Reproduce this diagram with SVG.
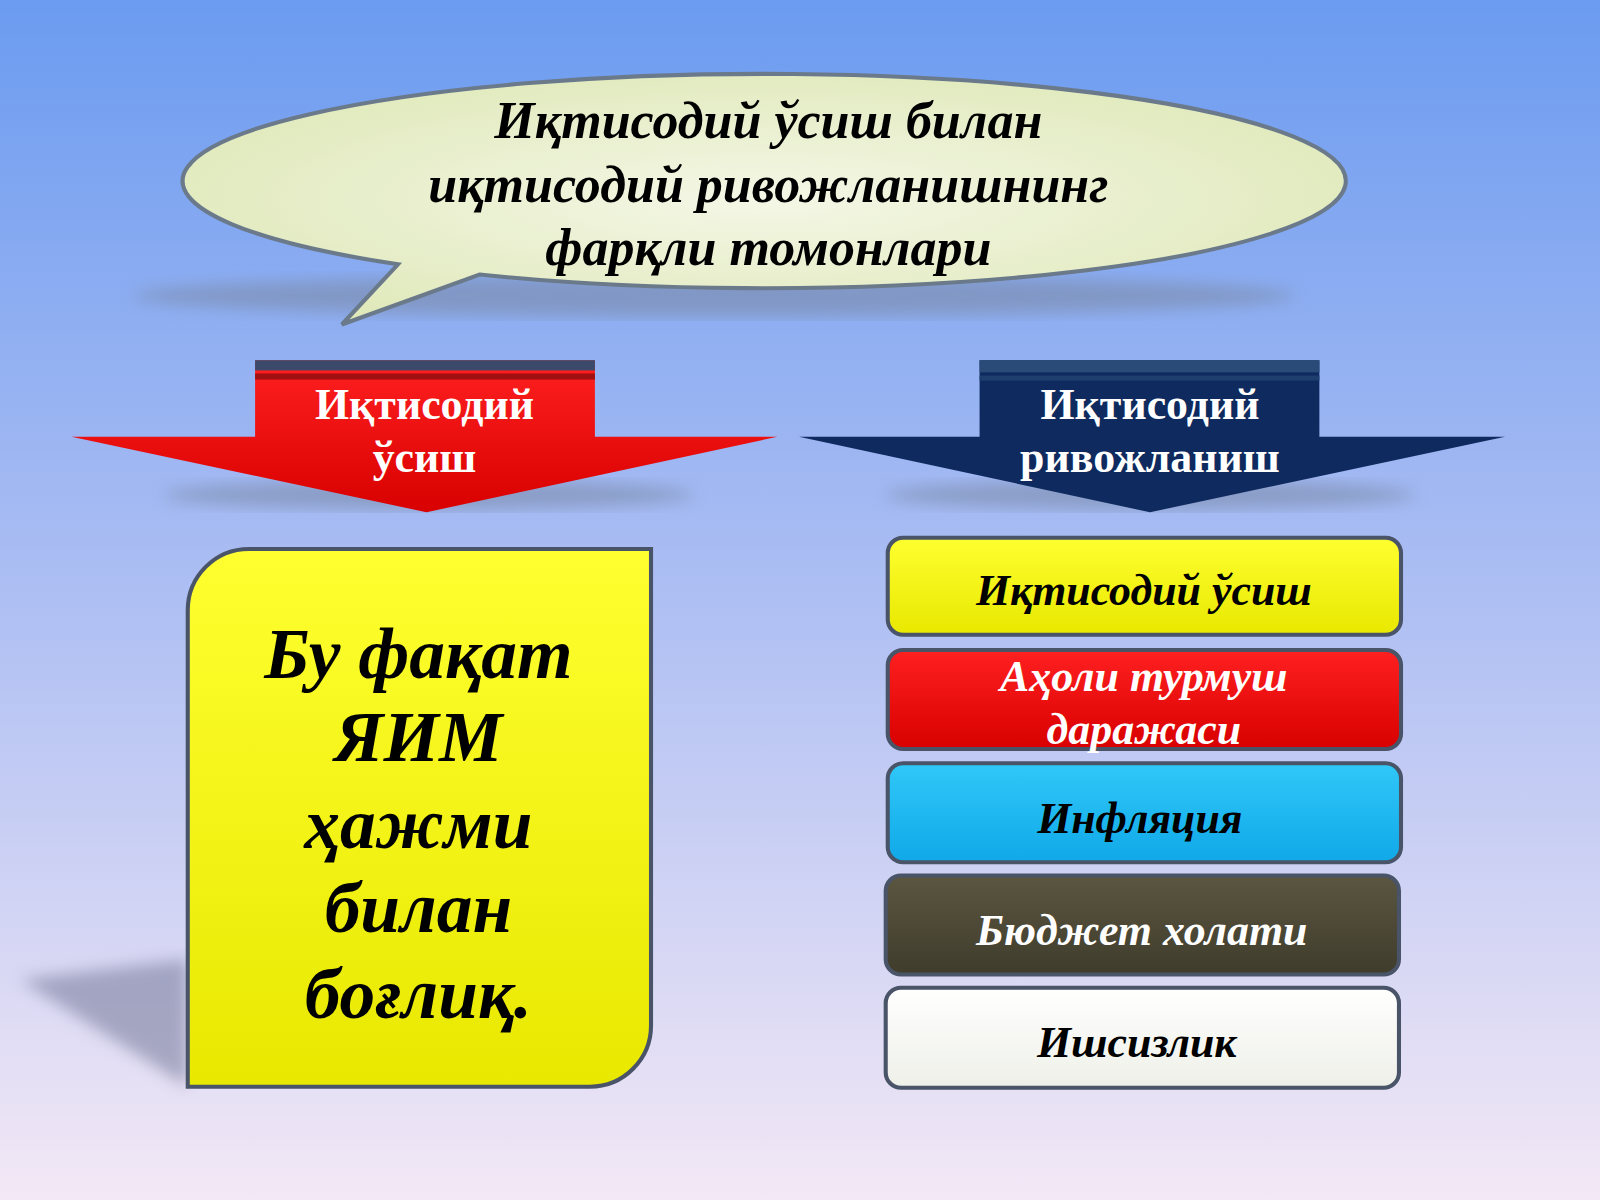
<svg xmlns="http://www.w3.org/2000/svg" width="1600" height="1200" viewBox="0 0 1600 1200">
<defs>
<linearGradient id="bg" x1="0" y1="0" x2="0" y2="1"><stop offset="0" stop-color="#6b9bf0"/><stop offset="0.5" stop-color="#aebff3"/><stop offset="1" stop-color="#f3e8f5"/></linearGradient>
<radialGradient id="bub" cx="0.5" cy="0.5" r="0.6"><stop offset="0" stop-color="#f4f7e6"/><stop offset="1" stop-color="#dfe8b8"/></radialGradient>
<linearGradient id="yel" x1="0" y1="0" x2="0" y2="1"><stop offset="0" stop-color="#ffff30"/><stop offset="1" stop-color="#e8e800"/></linearGradient>
<linearGradient id="red" x1="0" y1="0" x2="0" y2="1"><stop offset="0" stop-color="#ff2020"/><stop offset="1" stop-color="#d80000"/></linearGradient>
<linearGradient id="cya" x1="0" y1="0" x2="0" y2="1"><stop offset="0" stop-color="#30c8f8"/><stop offset="1" stop-color="#10a8e8"/></linearGradient>
<linearGradient id="drk" x1="0" y1="0" x2="0" y2="1"><stop offset="0" stop-color="#5a5640"/><stop offset="1" stop-color="#403c2c"/></linearGradient>
<linearGradient id="wht" x1="0" y1="0" x2="0" y2="1"><stop offset="0" stop-color="#ffffff"/><stop offset="1" stop-color="#eef0e8"/></linearGradient>
<filter id="blur"><feGaussianBlur stdDeviation="8"/></filter>
</defs>
<style>
.t{font-family:"Liberation Serif",serif;font-weight:bold;font-style:italic;text-anchor:middle}
.h{font-family:"Liberation Serif",serif;font-weight:bold;text-anchor:middle;fill:#fff;font-size:43px}
.box{stroke:#4a5468;stroke-width:4}
</style>
<rect width="1600" height="1200" fill="url(#bg)"/>
<g transform="scale(1.0204)">
<g id="title">
<ellipse cx="700" cy="290" rx="570" ry="20" fill="#7a8aa8" opacity="0.6" filter="url(#blur)"/>
<path d="M 390 259 L 335 318 L 470 269 A 570 105 0 1 0 390 259 Z" fill="url(#bub)" stroke="#6b7a8a" stroke-width="4"/>
<text class="t" x="753" y="135" font-size="51">Иқтисодий ўсиш билан</text>
<text class="t" x="753" y="198" font-size="51">иқтисодий ривожланишнинг</text>
<text class="t" x="753" y="260" font-size="51">фарқли томонлари</text>
</g>
<g id="arrow-red">
<ellipse cx="420" cy="485" rx="260" ry="14" fill="#7a8aa8" opacity="0.6" filter="url(#blur)"/>
<path d="M250 353 H583 V428 H762 L418 502 L70 428 H250 Z" fill="url(#red)"/>
<rect x="250" y="353" width="333" height="10" fill="#3b4a6a"/>
<rect x="250" y="366" width="333" height="6" fill="#a01010"/>
<text class="h" x="416" y="411">Иқтисодий</text>
<text class="h" x="416" y="463">ўсиш</text>
</g>
<g id="arrow-navy">
<ellipse cx="1127" cy="485" rx="260" ry="14" fill="#7a8aa8" opacity="0.6" filter="url(#blur)"/>
<path d="M960 353 H1293 V428 H1475 L1127 502 L783 428 H960 Z" fill="#0e2a5e"/>
<rect x="960" y="353" width="333" height="12" fill="#2a4a78"/>
<rect x="960" y="368" width="333" height="5" fill="#1e3e6e"/>
<text class="h" x="1127" y="411">Иқтисодий</text>
<text class="h" x="1127" y="463">ривожланиш</text>
</g>
<g id="yellow-box">
<path d="M20 960 L184 940 L184 1065 Z" fill="#6a7090" opacity="0.5" filter="url(#blur)"/>
<path d="M244 538 H638 V1005 A60 60 0 0 1 578 1065 H184 V598 A60 60 0 0 1 244 538 Z" fill="url(#yel)" class="box"/>
<g class="t" font-size="70" fill="#000">
<text x="410" y="664">Бу фақат</text>
<text x="410" y="746">ЯИМ</text>
<text x="410" y="831">ҳажми</text>
<text x="410" y="913">билан</text>
<text x="410" y="998">боғлиқ.</text>
</g>
</g>
<g id="b1"><rect x="870" y="527" width="503" height="95" rx="15" fill="url(#yel)" class="box"/><text class="t" x="1121" y="593" font-size="43">Иқтисодий ўсиш</text></g>
<g id="b2"><rect x="870" y="637" width="503" height="97" rx="15" fill="url(#red)" class="box"/><text class="t" x="1121" y="677" font-size="43" fill="#fff">Аҳоли турмуш</text><text class="t" x="1121" y="729" font-size="43" fill="#fff">даражаси</text></g>
<g id="b3"><rect x="870" y="748" width="503" height="97" rx="15" fill="url(#cya)" class="box"/><text class="t" x="1117" y="816" font-size="43">Инфляция</text></g>
<g id="b4"><rect x="868" y="858" width="503" height="97" rx="15" fill="url(#drk)" class="box"/><text class="t" x="1119" y="926" font-size="43" fill="#fff">Бюджет холати</text></g>
<g id="b5"><rect x="868" y="968" width="503" height="98" rx="15" fill="url(#wht)" class="box"/><text class="t" x="1114" y="1036" font-size="43">Ишсизлик</text></g>
</g>
</svg>
